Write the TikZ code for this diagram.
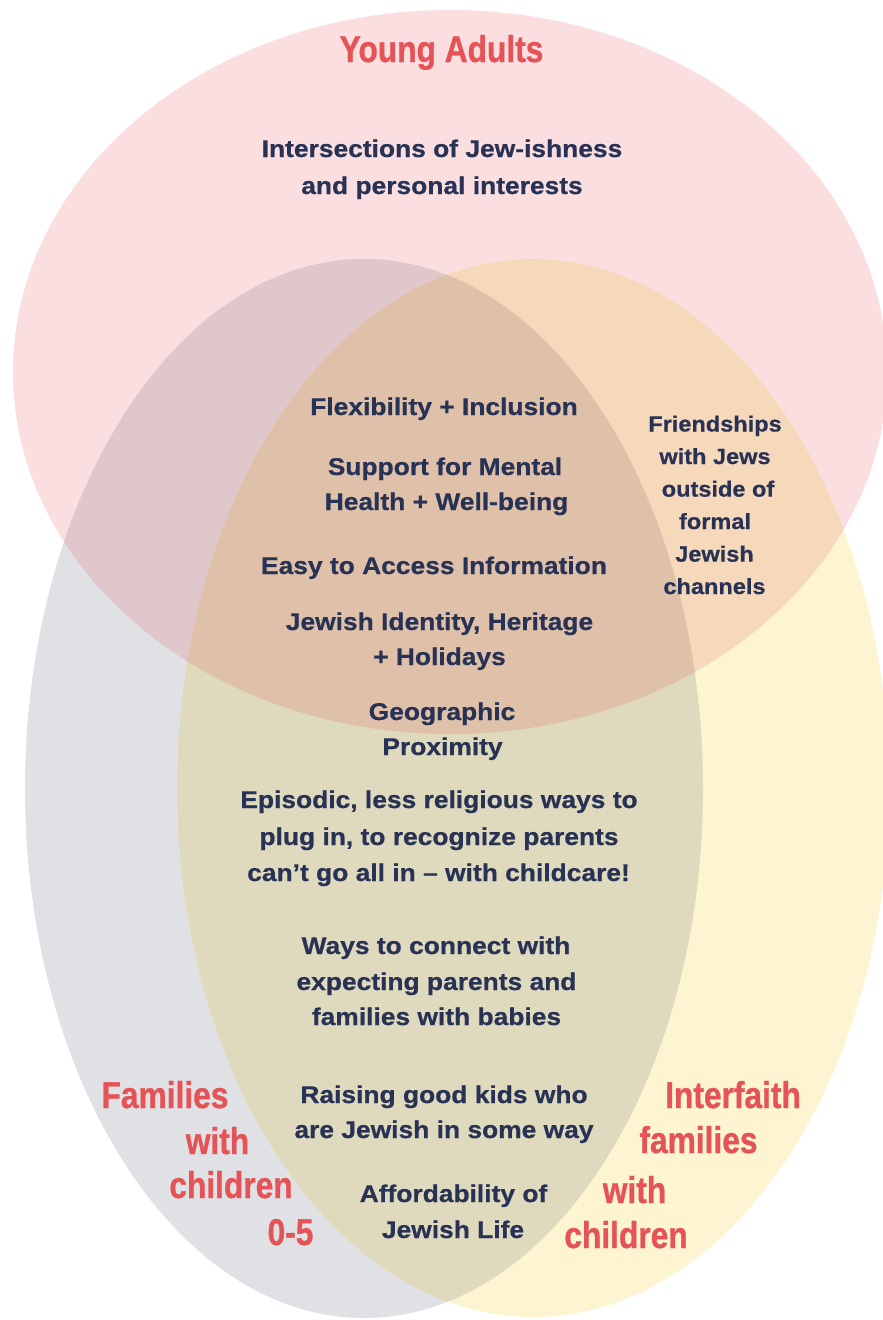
\documentclass[tikz,border=0pt]{standalone}
\usepackage{fontspec}
\newfontfamily\navyfont[FakeStretch=1.09,FakeBold=0.6]{Liberation Sans Bold}
\newfontfamily\frfont[FakeStretch=1.07,FakeBold=0.6]{Liberation Sans Bold}
\newfontfamily\redfont[FakeStretch=0.85,FakeBold=0.8]{Liberation Sans Bold}
\definecolor{pinkc}{HTML}{FADEE0}
\definecolor{grayc}{HTML}{E0E1E5}
\definecolor{yelc}{HTML}{FDF4D1}
\definecolor{pgc}{HTML}{E0C7CC}
\definecolor{pyc}{HTML}{F6D8BB}
\definecolor{gyc}{HTML}{DFD9BD}
\definecolor{pgyc}{HTML}{DFC0A9}
\definecolor{navyc}{HTML}{283255}
\definecolor{redc}{HTML}{E55356}
\tikzset{
  pinkE/.style={insert path={(450,372) ellipse [x radius=437, y radius=362]}},
  grayE/.style={insert path={(364,788.5) ellipse [x radius=339, y radius=529.5]}},
  yelE/.style={insert path={(533,788) ellipse [x radius=356, y radius=529]}},
  nv/.style={text=navyc, font=\navyfont\fontsize{24.2}{29}\selectfont, anchor=base, inner sep=0pt},
  fr/.style={text=navyc, font=\frfont\fontsize{22}{26}\selectfont, anchor=base, inner sep=0pt},
  rd/.style={text=redc, font=\redfont\fontsize{37.3}{44}\selectfont, anchor=base, inner sep=0pt}
}
\begin{document}
\begin{tikzpicture}[x=1pt,y=-1pt]
\useasboundingbox (0,0) rectangle (883,1320);
\begin{scope}
\clip (0,0) rectangle (883,1320);
\fill[pinkc][pinkE];
\fill[grayc][grayE];
\fill[yelc][yelE];
\begin{scope}\clip[pinkE]; \fill[pgc][grayE];\end{scope}
\begin{scope}\clip[pinkE]; \fill[pyc][yelE];\end{scope}
\begin{scope}\clip[grayE]; \fill[gyc][yelE];\end{scope}
\begin{scope}\clip[pinkE]; \clip[grayE]; \fill[pgyc][yelE];\end{scope}
\end{scope}

% titles
\node[rd] (ya) at (441.5,62) {Young Adults};
\node[rd] (famL1) at (165,1108) {Families};
\node[rd] (famL2) at (217.5,1154) {with};
\node[rd] (famL3) at (231,1198) {children};
\node[rd] (famL4) at (290.5,1245) {0-5};
\node[rd] (intR1) at (733,1108) {Interfaith};
\node[rd] (intR2) at (698.5,1153) {families};
\node[rd] (intR3) at (634.5,1203) {with};
\node[rd] (intR4) at (626,1248) {children};

% navy texts
\node[nv] (ij1) at (442,157) {Intersections of Jew-ishness};
\node[nv] (ij2) at (442,194) {and personal interests};
\node[nv] (flex) at (444,415) {Flexibility + Inclusion};
\node[nv] (sup1) at (445,475) {Support for Mental};
\node[nv] (sup2) at (446.5,510) {Health + Well-being};
\node[nv] (easy) at (434,574) {Easy to Access Information};
\node[nv] (jid1) at (439.5,630) {Jewish Identity, Heritage};
\node[nv] (jid2) at (439.5,665) {+ Holidays};
\node[nv] (geo1) at (442,720) {Geographic};
\node[nv] (geo2) at (442.5,755) {Proximity};
\node[nv] (epi1) at (439,808) {Episodic, less religious ways to};
\node[nv] (epi2) at (439,845) {plug in, to recognize parents};
\node[nv] (epi3) at (438.5,881) {can’t go all in – with childcare!};
\node[nv] (way1) at (436,954) {Ways to connect with};
\node[nv] (way2) at (436.5,990) {expecting parents and};
\node[nv] (way3) at (436.5,1025) {families with babies};
\node[nv] (rai1) at (444,1103) {Raising good kids who};
\node[nv] (rai2) at (444,1138) {are Jewish in some way};
\node[nv] (aff1) at (453.5,1202) {Affordability of};
\node[nv] (aff2) at (453,1238) {Jewish Life};

\node[fr] (fri1) at (715,431.5) {Friendships};
\node[fr] (fri2) at (715,464) {with Jews};
\node[fr] (fri3) at (718,496.6) {outside of};
\node[fr] (fri4) at (715,529) {formal};
\node[fr] (fri5) at (714.5,561.6) {Jewish};
\node[fr] (fri6) at (714.5,594) {channels};
\end{tikzpicture}
\end{document}
